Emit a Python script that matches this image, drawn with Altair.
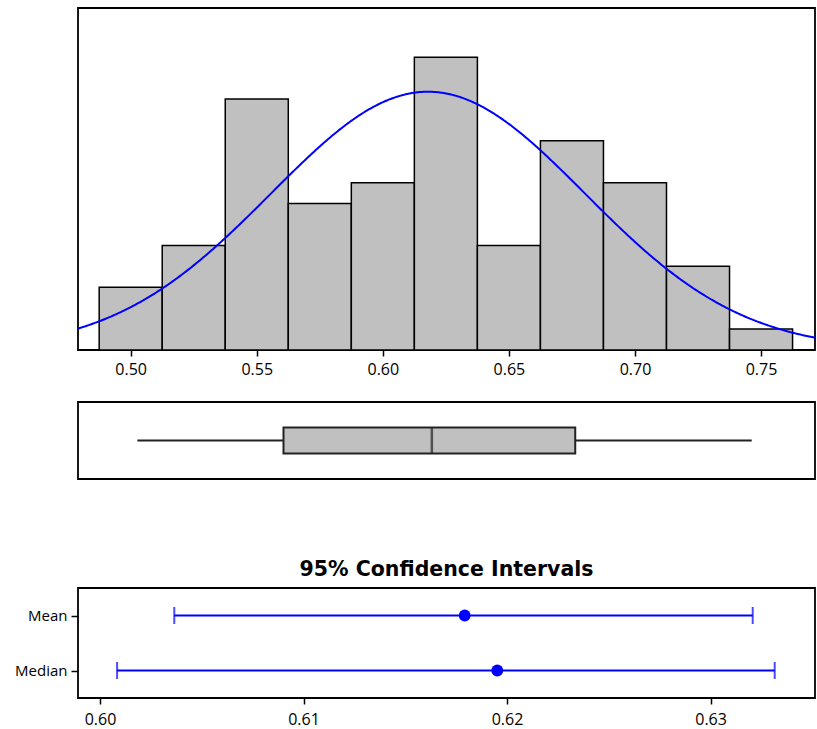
import altair as alt
import pandas as pd

# ---- histogram: bin edges and counts ----
bin_lo = [0.4875, 0.5125, 0.5375, 0.5625, 0.5875, 0.6125, 0.6375, 0.6625, 0.6875, 0.7125, 0.7375]
bin_hi = [0.5125, 0.5375, 0.5625, 0.5875, 0.6125, 0.6375, 0.6625, 0.6875, 0.7125, 0.7375, 0.7625]
counts = [3, 5, 12, 7, 8, 14, 5, 10, 8, 4, 1]

# fitted normal curve parameters
n_obs = 77
bin_width = 0.025
fit_mean = 0.6179
fit_sd = 0.0622

hist_domain = [0.4791, 0.7714]
hist_ticks = [0.50, 0.55, 0.60, 0.65, 0.70, 0.75]
count_max = 16.35

# ---- boxplot five-number summary ----
whisker_lo = 0.50266
q1 = 0.56060
median = 0.61944
q3 = 0.67631
whisker_hi = 0.74631

# ---- 95% confidence intervals ----
stat_names = ["Mean", "Median"]
ci_lo = [0.60365, 0.60084]
ci_hi = [0.63207, 0.63315]
ci_center = [0.61792, 0.61952]
ci_domain = [0.59892, 0.63513]
ci_ticks = [0.60, 0.61, 0.62, 0.63]

PANEL_W = 737
LABEL_FONT = "Open Sans"
BLUE = "#0000ff"
GREY = "#c0c0c0"
INK = "#222222"

hist_df = pd.DataFrame({"lo": bin_lo, "hi": bin_hi, "count": counts})
box_df = pd.DataFrame({"row": ["a"], "wlo": [whisker_lo], "q1": [q1], "med": [median],
                       "q3": [q3], "whi": [whisker_hi]})
ci_df = pd.DataFrame({"stat": stat_names, "lo": ci_lo, "hi": ci_hi, "center": ci_center})

x_hist = alt.Scale(domain=hist_domain, nice=False, zero=False)
y_hist = alt.Scale(domain=[0, count_max], nice=False)

hist_axis = alt.Axis(values=hist_ticks, format=".2f", domain=False, grid=False,
                     tickSize=6, tickWidth=1.5, tickColor="black",
                     labelFont=LABEL_FONT, labelFontSize=16, labelColor="black",
                     labelPadding=5, title=None)

bars = alt.Chart(hist_df).mark_rect(fill=GREY, stroke="black", strokeWidth=1.5).encode(
    x=alt.X("lo:Q", scale=x_hist, axis=hist_axis),
    x2="hi:Q",
    y=alt.Y("count:Q", scale=y_hist, axis=None),
    y2=alt.datum(0),
)

curve = (
    alt.Chart(alt.sequence(hist_domain[0], hist_domain[1] + 0.0005, 0.0005, as_="x"))
    .transform_calculate(
        density=f"{n_obs}*{bin_width}*exp(-0.5*pow((datum.x-{fit_mean})/{fit_sd},2))"
                f"/({fit_sd}*sqrt(2*PI))"
    )
    .mark_line(color=BLUE, strokeWidth=2, clip=True)
    .encode(
        x=alt.X("x:Q", scale=x_hist),
        y=alt.Y("density:Q", scale=y_hist),
    )
)

hist = alt.layer(bars, curve).properties(width=PANEL_W, height=342)

# ---- boxplot panel ----
x_box = alt.Scale(domain=hist_domain, nice=False, zero=False)
y_box = alt.Scale(type="point", padding=0.5)

whisk = alt.Chart(box_df).mark_rule(color=INK, strokeWidth=2).encode(
    x=alt.X("wlo:Q", scale=x_box, axis=None),
    x2="whi:Q",
    y=alt.Y("row:N", scale=y_box, axis=None),
)
box = alt.Chart(box_df).mark_bar(size=26, fill=GREY, stroke=INK, strokeWidth=2).encode(
    x=alt.X("q1:Q", scale=x_box, axis=None),
    x2="q3:Q",
    y=alt.Y("row:N", scale=y_box, axis=None),
)
med = alt.Chart(box_df).mark_tick(size=26, thickness=2.5, color=INK).encode(
    x=alt.X("med:Q", scale=x_box, axis=None),
    y=alt.Y("row:N", scale=y_box, axis=None),
)
boxplot = alt.layer(whisk, box, med).properties(width=PANEL_W, height=77)

# ---- confidence interval panel ----
x_ci = alt.Scale(domain=ci_domain, nice=False, zero=False)
y_ci = alt.Scale(type="point", padding=0.5, domain=stat_names)

ci_xaxis = alt.Axis(values=ci_ticks, format=".2f", domain=False, grid=False,
                    tickSize=6, tickWidth=1.5, tickColor="black",
                    labelFont=LABEL_FONT, labelFontSize=16, labelColor="black",
                    labelPadding=7, title=None)
ci_yaxis = alt.Axis(domain=False, grid=False, tickSize=7, tickWidth=1.5, tickColor="black",
                    labelFont=LABEL_FONT, labelFontSize=15, labelColor="black",
                    labelPadding=4, title=None)

ci_rule = alt.Chart(ci_df).mark_rule(color=BLUE, strokeWidth=2).encode(
    x=alt.X("lo:Q", scale=x_ci, axis=ci_xaxis),
    x2="hi:Q",
    y=alt.Y("stat:N", scale=y_ci, axis=ci_yaxis),
)
ci_caps_lo = alt.Chart(ci_df).mark_tick(size=17, thickness=2, color=BLUE).encode(
    x=alt.X("lo:Q", scale=x_ci),
    y=alt.Y("stat:N", scale=y_ci),
)
ci_caps_hi = alt.Chart(ci_df).mark_tick(size=17, thickness=2, color=BLUE).encode(
    x=alt.X("hi:Q", scale=x_ci),
    y=alt.Y("stat:N", scale=y_ci),
)
ci_dots = alt.Chart(ci_df).mark_point(filled=True, size=140, color=BLUE, opacity=1).encode(
    x=alt.X("center:Q", scale=x_ci),
    y=alt.Y("stat:N", scale=y_ci),
)

ci = alt.layer(ci_rule, ci_caps_lo, ci_caps_hi, ci_dots).properties(
    width=PANEL_W, height=110,
    title=alt.TitleParams("95% Confidence Intervals", font="DejaVu Sans", fontSize=20.5,
                          fontWeight="bold", color="black", anchor="middle", offset=8),
)

top = alt.vconcat(hist, boxplot, spacing=23)
chart = (
    alt.vconcat(top, ci, spacing=78)
    .properties(padding={"left": 13, "top": 7, "right": 0, "bottom": 0})
    .configure(background="white")
    .configure_view(stroke="black", strokeWidth=1.8)
)

chart.save("out.html", embed_options={"renderer": "svg", "actions": False})
